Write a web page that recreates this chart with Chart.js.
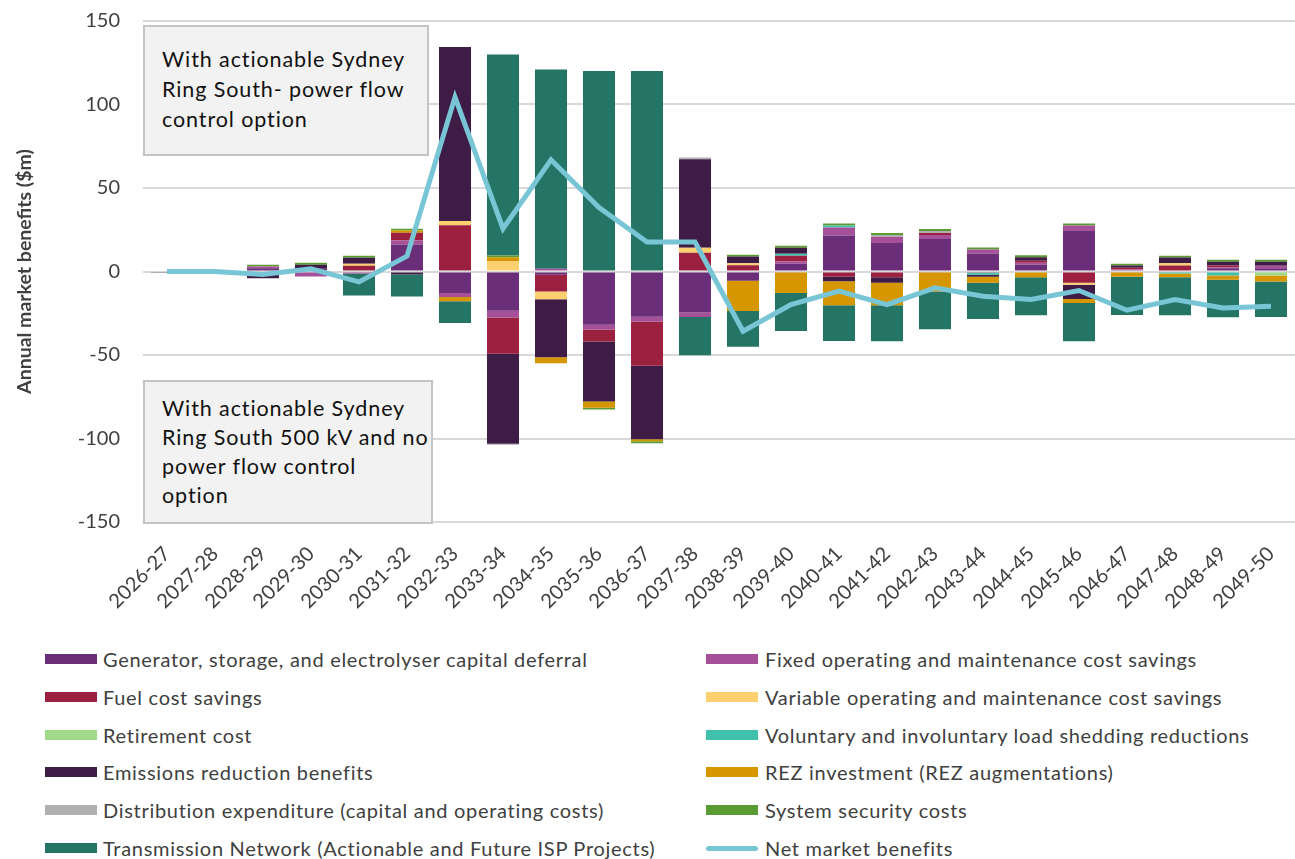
<!DOCTYPE html>
<html>
<head>
<meta charset="utf-8">
<script src="https://cdn.jsdelivr.net/npm/chart.js@4.4.1/dist/chart.umd.min.js"></script>
<style>
  body { margin: 0; background: #fff; }
  #wrap { position: relative; width: 1295px; height: 859px; font-family: Lato, "Liberation Sans", sans-serif; }
  #c { position: absolute; left: 0; top: 0; }
  .note { position: absolute; box-sizing: border-box; background: #f2f2f2; border: 2px solid #c4c4c4; white-space: nowrap;
          font-size: 21.5px; letter-spacing: 0.9px; color: #111; line-height: 30px; padding-left: 17px; }
  .leg { position: absolute; height: 24px; display: flex; align-items: center; font-size: 20px; letter-spacing: 0.7px; color: #404040; white-space: nowrap; }
  .sw { display: inline-block; width: 52px; height: 10px; margin-right: 6px; }
  .sw.line { height: 5px; border-radius: 3px; }
</style>
</head>
<body>
<div id="wrap">
  <canvas id="c" width="1295" height="640"></canvas>
  <div class="note" style="left:143px;top:25px;width:286px;height:131px;padding-top:17px;">With actionable Sydney<br>Ring South- power flow<br>control option</div>
  <div class="note" style="left:143px;top:380px;width:290px;height:144px;padding-top:12px;line-height:29px;">With actionable Sydney<br>Ring South 500 kV and no<br>power flow control<br>option</div>
  <div id="legend"></div>
</div>
<script>
// ── Data ($m per year) ───────────────────────────────
const categories = ['2026-27','2027-28','2028-29','2029-30','2030-31','2031-32','2032-33','2033-34',
                    '2034-35','2035-36','2036-37','2037-38','2038-39','2039-40','2040-41','2041-42',
                    '2042-43','2043-44','2044-45','2045-46','2046-47','2047-48','2048-49','2049-50'];

const generatorCapital = [0, -0.3, 2.0, 1.6, -0.6, 16.2, -12.8, -23.5, -2.0, -31.9, -27.1, -24.5,
                          -5.6, 4.6, 21.6, 17.0, 19.4, 10.8, 4.0, 24.2, 0.6, 0, 2.0, 2.0];
const fixedOM          = [0, 0.5, 1.0, -3.0, -0.6, 2.4, -2.4, -4.0, 1.6, -2.8, -2.8, -2.8,
                          0, 1.4, 4.8, 3.8, 2.4, 2.4, 1.2, 3.4, 0.6, 0, 0.6, 1.4];
const fuelCost         = [0, 0, 0, 0, 3.4, 4.6, 27.7, -21.7, -10.0, -7.2, -26.5, 11.2,
                          3.8, 3.4, -3.2, -3.4, 1.2, -0.8, 1.2, -6.8, 1.0, 3.6, 1.0, 0];
const variableOM       = [0, 0, 0, 0, 1.2, 0, 2.6, 6.0, -4.6, 0, 0, 3.0,
                          1.2, 0, 0, 0, 0, 0, 0, -1.2, 0, 1.4, 0, 0];
const retirementCost   = [0, 0, 0, 0, 0, 0, 0, 0, 0, 0, 0, 0,
                          0, 0, 0, 0, 0, 0, 0, 0, 0, 0, 0, -2.4];
const loadShedding     = [0, 0, 0, 0, 0, 0, 0, 0, 0, 0, 0, 0,
                          0, 1.2, 1.2, 0, 0, -1.2, 0, 0, 0, -1.2, -2.4, 0];
const emissions        = [-0.8, 0, -4.0, 2.4, 3.6, -1.8, 104.2, -53.9, -34.7, -35.9, -44.1, 53.0,
                          4.0, 3.6, -2.6, -3.4, 0, -1.2, 2.2, -8.4, 1.4, 3.4, 2.2, 2.4];
const rezInvestment    = [0, 0, 0, 0, 0, 1.4, -2.6, 2.6, -3.6, -3.8, -1.2, 0,
                          -18.0, -12.8, -14.4, -13.4, -12.0, -3.6, -3.4, -2.4, -3.2, -2.2, -2.6, -3.6];
const distribution     = [0, 0, 0, 0, 0, 0, 0, -0.6, 0, 0, 0, 1.0,
                          0, 0, 0, 1.0, 1.2, 0, 0, 0, 0, 0, 0, 0];
const systemSecurity   = [0, 0, 1.0, 1.2, 1.2, 1.0, 0, 1.0, 0, -1.0, -1.2, 0,
                          1.0, 1.2, 1.2, 1.2, 1.2, 1.2, 1.2, 1.2, 1.0, 1.0, 1.2, 1.2];
const transmission     = [0, 0, 0, 0, -13.2, -13.2, -13.0, 120.3, 119.4, 120.1, 120.1, -22.9,
                          -21.4, -22.8, -21.4, -21.6, -22.6, -21.6, -22.8, -23.0, -22.8, -22.8, -22.4, -21.2];
const netBenefits      = [0, 0, -1.8, 1.6, -6.2, 9.2, 104.4, 25.7, 66.9, 38.3, 17.6, 17.6,
                          -35.8, -19.8, -11.8, -19.8, -9.8, -14.8, -16.8, -11.4, -23.2, -16.8, -21.8, -20.8];

const yTicks = [-150, -100, -50, 0, 50, 100, 150];

// ── Series: [label, data, colour] ────────────────────
const barSeries = [
  ['Generator, storage, and electrolyser capital deferral', generatorCapital, '#6b2e78'],
  ['Fixed operating and maintenance cost savings',          fixedOM,          '#a65099'],
  ['Fuel cost savings',                                     fuelCost,         '#9c2141'],
  ['Variable operating and maintenance cost savings',       variableOM,       '#fcd06f'],
  ['Retirement cost',                                       retirementCost,   '#a1d98b'],
  ['Voluntary and involuntary load shedding reductions',    loadShedding,     '#40c1ac'],
  ['Emissions reduction benefits',                          emissions,        '#3f1c45'],
  ['REZ investment (REZ augmentations)',                    rezInvestment,    '#d69600'],
  ['Distribution expenditure (capital and operating costs)', distribution,    '#b0b0b0'],
  ['System security costs',                                 systemSecurity,   '#5a9b33'],
  ['Transmission Network (Actionable and Future ISP Projects)', transmission, '#257566'],
];
const NET_COLOR = '#78c5d6';

const datasets = barSeries.map(([label, data, col]) => ({
  type: 'bar', label, data, backgroundColor: col, borderWidth: 0,
  barPercentage: 0.667, categoryPercentage: 1.0, order: 1
}));
datasets.push({
  type: 'line', label: 'Net market benefits', data: netBenefits,
  borderColor: NET_COLOR, backgroundColor: NET_COLOR, borderWidth: 5,
  pointRadius: 0, tension: 0, fill: false, order: 0
});

const FONT = 'Lato, "Liberation Sans", sans-serif';
const TXT  = '#404040';

const chart = new Chart(document.getElementById('c'), {
  data: { labels: categories, datasets },
  options: {
    responsive: false,
    animation: false,
    layout: { padding: { top: 21, right: 0, left: 0, bottom: 0 } },
    plugins: { legend: { display: false }, tooltip: { enabled: false } },
    scales: {
      x: {
        stacked: true,
        grid: { display: false, drawTicks: false },
        border: { display: false },
        ticks: { font: { family: FONT, size: 20 }, color: TXT, maxRotation: 45, minRotation: 45, padding: 20 },
        // rotated labels must not shrink the plot width
        afterFit: s => { s.height = 118; s.paddingLeft = 0; s.paddingRight = 0; }
      },
      y: {
        stacked: true, min: -150, max: 150,
        afterBuildTicks: s => { s.ticks = yTicks.map(v => ({ value: v })); },
        grid: { color: '#d9d9d9', lineWidth: 2, drawTicks: false },
        border: { display: false },
        ticks: { font: { family: FONT, size: 20 }, color: TXT, padding: 23 },
        title: { display: true, text: 'Annual market benefits ($m)', color: TXT,
                 font: { family: FONT, size: 19.5, weight: 'bold' }, padding: { top: 13, bottom: 0 } },
        // fixed axis width; tick padding should not push the plot area down
        afterFit: s => { s.width = 143; s.paddingTop = 10; s.paddingBottom = 10; }
      }
    }
  }
});

// ── HTML legend, two columns, built from the chart datasets ──
const legendEl = document.getElementById('legend');
chart.data.datasets.forEach((ds, i) => {
  const col = i % 2, row = Math.floor(i / 2);
  const item = document.createElement('div');
  item.className = 'leg';
  item.style.left = (col ? 706 : 45) + 'px';
  item.style.top  = (647 + row * 37.8) + 'px';
  const sw = document.createElement('span');
  sw.className = 'sw' + (ds.type === 'line' ? ' line' : '');
  sw.style.background = ds.type === 'line' ? ds.borderColor : ds.backgroundColor;
  if (col) sw.style.marginRight = '7px';
  item.appendChild(sw);
  item.appendChild(document.createTextNode(ds.label));
  legendEl.appendChild(item);
});
</script>
</body>
</html>
